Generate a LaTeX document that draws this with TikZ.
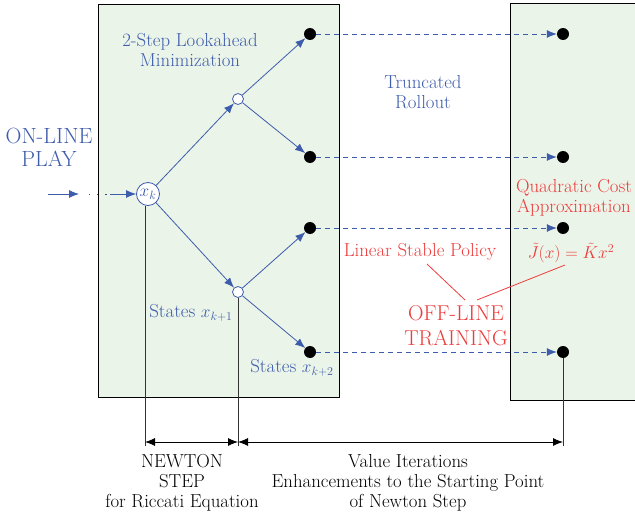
\documentclass[tikz,border=0pt]{standalone}
\usetikzlibrary{arrows.meta}
\definecolor{tblue}{RGB}{62,92,172}
\definecolor{tred}{RGB}{236,60,60}
\definecolor{tgreen}{RGB}{234,244,232}
\tikzset{
  panel/.style={draw=black, line width=1pt, fill=tgreen},
  hollow/.style={circle, draw=tblue, fill=white, line width=0.8pt, minimum size=11pt, inner sep=0pt},
  blackdot/.style={circle, fill=black, minimum size=12pt, inner sep=0pt},
  tarrow/.style={draw=tblue, line width=0.8pt, -{Latex[length=10pt,width=8pt]}},
  dasharrow/.style={draw=tblue, line width=0.8pt, dash pattern=on 5pt off 4pt, -{Latex[length=10pt,width=8pt]}},
  vline/.style={draw=black!80, line width=0.7pt},
  dimarrow/.style={draw=black, line width=0.8pt, {Latex[length=10pt,width=8pt]}-{Latex[length=10pt,width=8pt]}},
  btxt/.style={text=tblue, font=\fontsize{18.8}{20}\selectfont, align=center, inner sep=0pt},
  rtxt/.style={text=tred, font=\fontsize{18.8}{20}\selectfont, align=center, inner sep=0pt},
  ktxt/.style={text=black, font=\fontsize{18.8}{20}\selectfont, align=center, inner sep=0pt},
}
\begin{document}
\begin{tikzpicture}[x=1pt,y=-1pt]
\useasboundingbox (0,0) rectangle (635,519);
% panels
\path[panel] (98,5) rectangle (339,397);
\path[panel] (510,4) rectangle (645,400);
\useasboundingbox (0,0) rectangle (635,519);
% nodes
\node[circle, draw=tblue, fill=white, line width=0.8pt, minimum size=23pt, inner sep=0pt, text=tblue, font=\fontsize{17}{18}\selectfont] (xk) at (148,194) {$x_k$};
\node[hollow] (u1) at (238,99) {};
\node[hollow] (l1) at (238,292) {};
\node[blackdot] (a) at (310,34) {};
\node[blackdot] (b) at (310,157) {};
\node[blackdot] (c) at (310,228) {};
\node[blackdot] (d) at (310,352) {};
\node[blackdot] (ra) at (563,34) {};
\node[blackdot] (rb) at (563,157) {};
\node[blackdot] (rc) at (563,228) {};
\node[blackdot] (rd) at (563,352) {};
% incoming
\coordinate (in0) at (48,194);
\coordinate (in1) at (79,194);
\coordinate (in2) at (110,194);
\draw[tarrow] (in0) -- (in1);
\draw[draw=black!70, line width=1pt, dash pattern=on 1.2pt off 7pt] (89,194) -- (108,194);
\draw[tarrow] (in2) -- (xk);
% tree
\draw[tarrow] (xk) -- (u1);
\draw[tarrow] (xk) -- (l1);
\draw[tarrow] (u1) -- (a);
\draw[tarrow] (u1) -- (b);
\draw[tarrow] (l1) -- (c);
\draw[tarrow] (l1) -- (d);
% dashed
\draw[dasharrow] (a) -- (ra);
\draw[dasharrow] (b) -- (rb);
\draw[dasharrow] (c) -- (rc);
\draw[dasharrow] (d) -- (rd);
% vertical lines
\coordinate (v1) at (145,446);
\coordinate (v2) at (238,446);
\coordinate (v3) at (563,446);
\coordinate (v1s) at (145,205.5);
\draw[vline] (v1s) -- (v1);
\draw[vline] (l1.south) -- (v2);
\draw[vline] (rd.south) -- (v3);
\coordinate (h1) at (145,442);
\coordinate (h2) at (238,442);
\coordinate (h3) at (563,442);
\draw[dimarrow] (h1) -- (h2);
\draw[dimarrow] (h2) -- (h3);
% texts
\node[btxt, font=\fontsize{22}{23}\selectfont] (onl) at (49,147) {ON-LINE\\PLAY};
\node[btxt] (look) at (190,50) {2-Step Lookahead\\Minimization};
\node[btxt] (trunc) at (423,92) {Truncated\\Rollout};
\node[btxt] (s1) at (191,313) {States $x_{k+1}$};
\node[btxt] (s2) at (292,368) {States $x_{k+2}$};
\node[rtxt] (quad) at (574,198) {Quadratic Cost\\Approximation};
\node[rtxt] (lsp) at (420,252) {Linear Stable Policy};
\node[rtxt] (jt) at (571,253) {$\tilde J(x)=\tilde K x^2$};
\node[rtxt, font=\fontsize{21.5}{25}\selectfont] (off) at (456,326) {OFF-LINE\\TRAINING};
\coordinate (p1) at (427,264);
\coordinate (p2) at (465,300);
\coordinate (p3) at (565,265);
\coordinate (p4) at (477,300);
\draw[tred, line width=0.8pt] (p1) -- (p2);
\draw[tred, line width=0.8pt] (p3) -- (p4);
\node[ktxt] (newton) at (182,483) {NEWTON\\STEP\\for Riccati Equation};
\node[ktxt] (vi) at (408,483) {Value Iterations\\Enhancements to the Starting Point\\of Newton Step};
\end{tikzpicture}
\end{document}
